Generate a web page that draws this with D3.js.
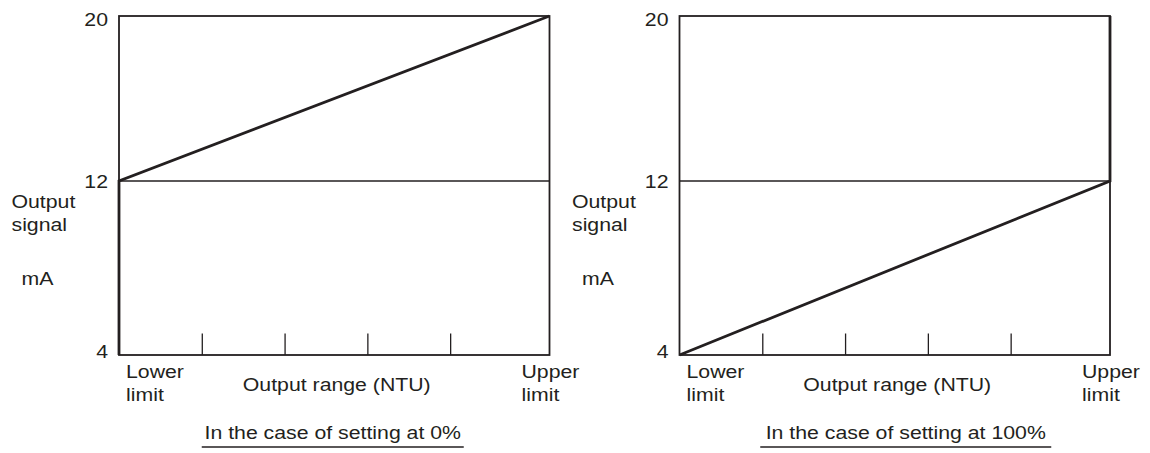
<!DOCTYPE html>
<html>
<head>
<meta charset="utf-8">
<script src="https://cdn.jsdelivr.net/npm/d3@7"></script>
<style>
  html, body { margin: 0; padding: 0; background: #fff; }
  svg { display: block; }
  text { font-family: "Liberation Sans", Arial, Helvetica, sans-serif; fill: #231f20; }
</style>
</head>
<body>
<svg id="chart" width="1150" height="453"></svg>
<script>
// Output signal (mA) against position in the output range, for two settings
const yTickValues = [4, 12, 20];
const xTickValues = [1, 2, 3, 4];
const rangeEnds = [0, 5.2];               // lower limit, upper limit
const settingLabels = ["In the case of setting at 0%", "In the case of setting at 100%"];
const rangeX0 = [0, 0, 5.2];              // setting 0%: jumps to 12 mA at lower limit
const signal0 = [4, 12, 20];
const rangeX100 = [0, 5.2, 5.2];          // setting 100%: reaches 12 mA at upper limit
const signal100 = [4, 12, 20];

const ink = "#231f20";
const svg = d3.select("#chart");

const plotW = 430.5;
const panelLeft = [119, 679.5];
const plotTop = 16, plotBottom = 355;

const x = d3.scaleLinear().domain(rangeEnds).range([0, plotW]);
// the printed scale is not quite uniform between 4-12 and 12-20
const y = d3.scaleLinear().domain([4, 12, 20]).range([plotBottom, 181, plotTop]);

// text drawn with a slight horizontal stretch, like the printed lettering
function label(g, tx, ty, str, anchor) {
  g.append("g")
    .attr("transform", `translate(${tx},${ty}) scale(1.15,1)`)
    .append("text")
    .attr("font-size", 18.5)
    .attr("text-anchor", anchor || "start")
    .text(str);
}

const series = [
  rangeX0.map((v, i) => ({ x: v, y: signal0[i] })),
  rangeX100.map((v, i) => ({ x: v, y: signal100[i] }))
];

series.forEach((pts, p) => {
  const g = svg.append("g").attr("transform", `translate(${panelLeft[p]},0)`);

  // 12 mA reference line
  g.append("line")
    .attr("x1", 0).attr("x2", plotW)
    .attr("y1", y(12)).attr("y2", y(12))
    .attr("stroke", ink).attr("stroke-width", 1.3);

  // bottom axis with interior ticks
  const xAxis = d3.axisTop(x).tickValues(xTickValues).tickSize(21.5).tickFormat("");
  const ax = g.append("g").attr("transform", `translate(0,${plotBottom})`).call(xAxis);
  ax.select(".domain").remove();
  ax.selectAll(".tick line").attr("stroke", ink).attr("stroke-width", 1.3);

  // frame
  g.append("rect")
    .attr("x", 0).attr("y", plotTop)
    .attr("width", plotW).attr("height", plotBottom - plotTop)
    .attr("fill", "none").attr("stroke", ink).attr("stroke-width", 1.8);

  // output characteristic
  g.append("path")
    .datum(pts)
    .attr("d", d3.line().x(d => x(d.x)).y(d => y(d.y)))
    .attr("fill", "none").attr("stroke", ink)
    .attr("stroke-width", 2.8).attr("stroke-linejoin", "miter");

  // y tick labels
  yTickValues.forEach(v => {
    const ty = Math.min(Math.max(y(v) + 7, plotTop + 10), plotBottom + 3);
    label(g, -11, ty, String(v), "end");
  });

  // y axis title
  label(g, -107.5, 208, "Output");
  label(g, -107.5, 231, "signal");
  label(g, -97.5, 285, "mA");

  // x labels
  label(g, 7, 377.5, "Lower");
  label(g, 7, 400.5, "limit");
  label(g, x(rangeEnds[1]) - 28, 377.5, "Upper");
  label(g, x(rangeEnds[1]) - 28, 400.5, "limit");
  label(g, plotW / 2 + 2.5, 391, "Output range (NTU)", "middle");

  // caption with underline
  const cx = plotW / 2 + (p === 0 ? -1.5 : 11);
  label(g, cx, 439, settingLabels[p], "middle");
  const half = p === 0 ? 131 : 145.5;
  g.append("line")
    .attr("x1", cx - half).attr("x2", cx + half)
    .attr("y1", 447).attr("y2", 447)
    .attr("stroke", ink).attr("stroke-width", 1.3);
});
</script>
</body>
</html>
